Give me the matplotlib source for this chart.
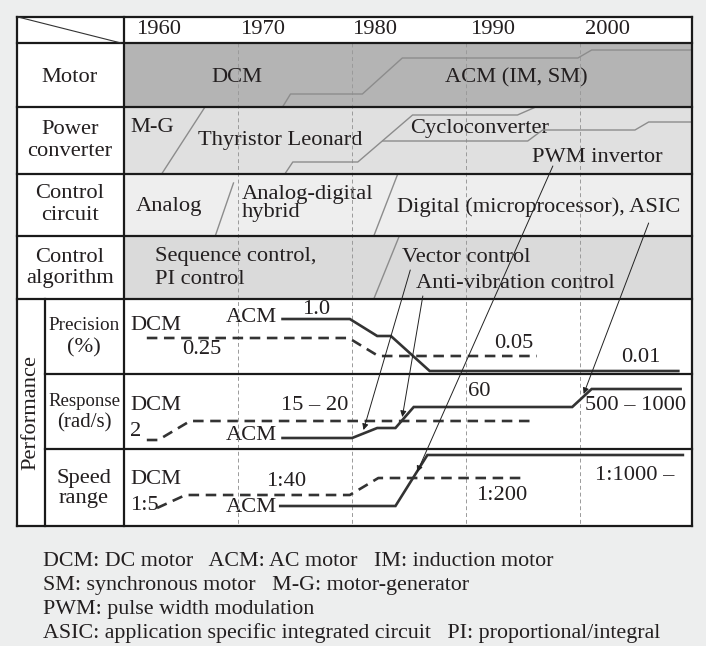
import numpy as np
import matplotlib.pyplot as plt

plt.rcParams['font.family'] = ['Liberation Serif', 'DejaVu Serif']

# ---- data -------------------------------------------------------------
years = [1960, 1970, 1980, 1990, 2000]
year_end = 2009.8
row_labels = [['Motor'], ['Power', 'converter'], ['Control', 'circuit'], ['Control', 'algorithm']]
perf_labels = [['Precision', '(%)'], ['Response', '(rad/s)'], ['Speed', 'range']]

# technology boundaries (year, row position)
motor_x = [1973.9, 1974.6, 1980.9, 1984.4, 1999.8, 2001.0, 2010]
motor_y = [107, 94, 94, 58, 58, 50, 50]
mg_x = [1963.3, 1967.1]
mg_y = [174, 107]
thy_x = [1974.1, 1974.8, 1980.5, 1985.3, 1994.5, 1996.1]
thy_y = [174, 162, 162, 115, 115, 107]
pwm_x = [1982.7, 1995.4, 1996.7, 2004.8, 2006.0, 2010]
pwm_y = [141, 141, 130, 130, 122, 122]
analog_x = [1968.0, 1969.6]
analog_y = [236, 183]
digital_x = [1981.9, 1984.0]
digital_y = [236, 174]
algo_x = [1981.9, 1984.1]
algo_y = [299, 237]

# annotation arrows: (start year, start pos, tip year, tip pos)
arrows = [(1985.1, 270, 1981.0, 430),   # vector control
          (1986.2, 296, 1984.4, 417),   # anti-vibration control
          (1997.6, 166, 1985.7, 472),   # PWM invertor
          (2006.0, 223, 2000.3, 394)]   # ASIC

# performance curves
prec_acm_x = [1973.9, 1979.8, 1982.2, 1983.4, 1986.8, 2008.6]
prec_acm_y = [319, 319, 336, 336, 371, 371]
prec_dcm_x = [1962.0, 1979.7, 1982.3, 1996.2]
prec_dcm_y = [338, 338, 356, 356]
resp_acm_x = [1973.9, 1980.0, 1982.2, 1983.8, 1985.4, 1999.3, 2001.0, 2008.8]
resp_acm_y = [438, 438, 428, 428, 407, 407, 389, 389]
resp_dcm_x = [1962.0, 1963.0, 1965.8, 1995.6]
resp_dcm_y = [440, 440, 421, 421]
speed_acm_x = [1973.7, 1983.8, 1986.6, 2009.0]
speed_acm_y = [506, 506, 455, 455]
speed_dcm_x = [1962.9, 1965.4, 1979.8, 1982.3, 1995.2]
speed_dcm_y = [508, 495, 495, 478, 478]

notes = ['DCM: DC motor   ACM: AC motor   IM: induction motor',
         'SM: synchronous motor   M-G: motor-generator',
         'PWM: pulse width modulation',
         'ASIC: application specific integrated circuit   PI: proportional/integral']

# ---- figure -----------------------------------------------------------
W, H = 706, 646
TXT = '#231f20'
fig = plt.figure(figsize=(W / 100, H / 100), dpi=100, facecolor='#edeeee')
ax = fig.add_axes([0, 0, 1, 1])
ax.set_xlim(0, W)
ax.set_ylim(H, 0)
ax.axis('off')

L, C, R = 17, 124, 692
rows = [17, 43, 107, 174, 236, 299, 374, 449, 526]
fills = ['white', '#b4b4b4', '#e0e0e0', '#eeeeee', '#dadada']

ax.add_patch(plt.Rectangle((L, rows[0]), R - L, rows[-1] - rows[0], color='white', lw=0))
for i, col in enumerate(fills):
    ax.add_patch(plt.Rectangle((C, rows[i]), R - C, rows[i + 1] - rows[i], color=col, lw=0))

# timeline axes over the content column
tl = fig.add_axes([C / W, 1 - rows[-1] / H, (R - C) / W, (rows[-1] - rows[0]) / H])
tl.set_xlim(1960, year_end)
tl.set_ylim(rows[-1], rows[0])
tl.axis('off')
tl.patch.set_alpha(0)

tl.vlines(years[1:], rows[1], rows[-1], colors='#9a9a9a', linestyles=(0, (4, 3)), lw=0.7)

for xs, ys in [(motor_x, motor_y), (mg_x, mg_y), (thy_x, thy_y), (pwm_x, pwm_y),
               (analog_x, analog_y), (digital_x, digital_y), (algo_x, algo_y)]:
    tl.plot(xs, ys, color='#8c8c8c', lw=1.0)

for x0, y0, x1, y1 in arrows:
    tl.annotate('', xy=(x1, y1), xytext=(x0, y0),
                arrowprops=dict(arrowstyle='-|>', color='#222222', lw=0.7,
                                mutation_scale=9, shrinkA=0, shrinkB=0))

for xs, ys in [(prec_acm_x, prec_acm_y), (resp_acm_x, resp_acm_y), (speed_acm_x, speed_acm_y)]:
    tl.plot(xs, ys, color='#333333', lw=1.9, solid_joinstyle='miter')
for xs, ys in [(prec_dcm_x, prec_dcm_y), (resp_dcm_x, resp_dcm_y), (speed_dcm_x, speed_dcm_y)]:
    tl.plot(xs, ys, color='#333333', lw=1.9, linestyle=(0, (4, 2.5)))

# table rules
k = dict(color='#1a1a1a', lw=1.6, transform=ax.transData, clip_on=False)
for y in rows[:6] + [rows[-1]]:
    tl.plot([L, R], [y, y], **k)
for y in rows[6:8]:
    tl.plot([45, R], [y, y], **k)
for x in [L, C, R]:
    tl.plot([x, x], [rows[0], rows[-1]], **k)
tl.plot([45, 45], [rows[5], rows[-1]], **k)
tl.plot([L + 1, C - 3], [rows[0], rows[1]], color='#333333', lw=0.8,
        transform=ax.transData, clip_on=False)

# ---- text -------------------------------------------------------------
fs = 16.2
def t(x, y, s, ha='left', size=fs, **kw):
    ax.text(x, y, s, ha=ha, va='center', fontsize=size, color=TXT, **kw)

for yr, x in zip(years, [136, 240, 352, 470, 585]):
    t(x, 30, str(yr))

for lines, ys in zip(row_labels, [[77], [129, 152], [193, 215], [257, 279]]):
    for s, y in zip(lines, ys):
        t(70, y, s, ha='center')
perf_sizes = [[13.8, fs], [13.5, 15], [fs, fs]]
for lines, ys, sz in zip(perf_labels, [[325, 348], [401, 423], [478, 499]], perf_sizes):
    for s, y, z in zip(lines, ys, sz):
        t(84, y, s, ha='center', size=z)
t(31, 412, 'Performance', ha='center', rotation=90)

t(237, 77, 'DCM', ha='center')
t(516, 78, 'ACM (IM, SM)', ha='center')
t(130, 128, 'M-G')
t(198, 140, 'Thyristor Leonard')
t(410, 128, 'Cycloconverter')
t(532, 157, 'PWM invertor')
t(136, 207, 'Analog')
t(242, 194, 'Analog-digital')
t(242, 213, 'hybrid')
t(397, 207, 'Digital (microprocessor), ASIC')
t(155, 257, 'Sequence control,')
t(155, 279, 'PI control')
t(402, 258, 'Vector control')
t(416, 283, 'Anti-vibration control')

t(130, 325, 'DCM')
t(277, 318, 'ACM', ha='right')
t(316, 310, '1.0', ha='center')
t(202, 350, '0.25', ha='center')
t(514, 343, '0.05', ha='center')
t(641, 358, '0.01', ha='center')

t(130, 406, 'DCM')
t(130, 431, '2')
t(315, 406, '15 – 20', ha='center')
t(277, 436, 'ACM', ha='right')
t(479, 392, '60', ha='center')
t(636, 406, '500 – 1000', ha='center')

t(130, 480, 'DCM')
t(130, 506, '1:5')
t(286, 481, '1:40', ha='center')
t(277, 508, 'ACM', ha='right')
t(635, 475, '1:1000 –', ha='center')
t(502, 495, '1:200', ha='center')

for i, s in enumerate(notes):
    t(43, 562 + i * 23.7, s, size=15.8)

fig.savefig('out.png', dpi=100, facecolor=fig.get_facecolor())
